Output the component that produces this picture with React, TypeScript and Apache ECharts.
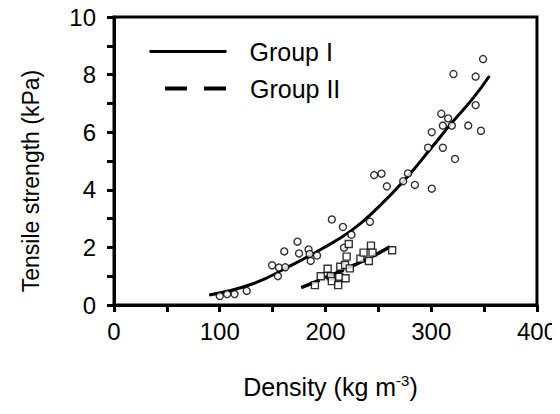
import React, { useEffect, useRef } from "react";
import * as echarts from "echarts";

const groupIPoints: [number, number][] = [
  [100, 0.31], [107, 0.38], [114, 0.38], [125.5, 0.49], [149.5, 1.38], [155, 1.0],
  [156, 1.3], [162, 1.31], [161, 1.86], [173.5, 2.2], [175, 1.79], [184, 1.93],
  [185, 1.77], [186, 1.53], [192, 1.72], [206, 2.97], [216.5, 2.71], [217.5, 1.99],
  [224.5, 2.44], [242, 2.89], [246, 4.51], [253, 4.56], [258, 4.12], [273.5, 4.3],
  [278, 4.57], [284.5, 4.17], [300.5, 4.04], [297, 5.46], [300.5, 6.0], [311, 5.46],
  [309.5, 6.64], [316, 6.48], [311, 6.23], [319.5, 6.23], [322.5, 5.07], [321, 8.02],
  [335, 6.23], [342, 7.93], [342, 6.94], [347, 6.05], [349, 8.54],
];

const groupIIPoints: [number, number][] = [
  [190, 0.69], [195.5, 1.0], [202, 1.26], [205, 1.0], [206, 0.83], [212, 0.69],
  [213, 0.98], [214, 1.33], [219, 0.93], [218.5, 1.39], [220, 1.68], [222, 2.12],
  [223, 1.27], [233, 1.61], [236, 1.82], [241, 1.53], [243, 2.06], [244.5, 1.82],
  [263, 1.9],
];

const groupIFit: [number, number][] = [
  [90, 0.35], [130, 0.72], [165, 1.33], [195, 1.92], [225, 2.6], [250, 3.4],
  [275, 4.35], [300, 5.45], [320, 6.35], [340, 7.2], [355, 7.95],
];

const groupIIFit: [number, number][] = [
  [177, 0.6], [200, 0.95], [225, 1.35], [245, 1.7], [261, 2.02],
];

const xTicks = [0, 100, 200, 300, 400];
const yTicks = [0, 2, 4, 6, 8, 10];

const FONT = "Liberation Sans, Arial, sans-serif";

export default function App() {
  const ref = useRef<HTMLDivElement>(null);
  useEffect(() => {
    if (!ref.current) return;
    const chart = echarts.init(ref.current, undefined, { renderer: "svg" });
    chart.setOption({
      animation: false,
      textStyle: { fontFamily: FONT, color: "#000" },
      grid: {
        left: 114, right: 18, top: 17, bottom: 109,
        show: true, borderColor: "#000", borderWidth: 3, backgroundColor: "transparent",
      },
      legend: [
        {
          data: ["Group I"], left: 143, top: 34, orient: "vertical",
          itemWidth: 77, itemHeight: 20,
          itemStyle: { opacity: 0 },
          lineStyle: { width: 3, color: "#000", type: "solid" },
          textStyle: { fontSize: 25, color: "#000", fontFamily: FONT, padding: [0, 0, 0, 18] },
        },
        {
          data: ["Group II"], left: 158, top: 71, orient: "vertical",
          itemWidth: 62, itemHeight: 20,
          itemStyle: { opacity: 0 },
          lineStyle: { width: 4, color: "#000", type: [22, 17] },
          textStyle: { fontSize: 25, color: "#000", fontFamily: FONT, padding: [0, 0, 0, 18] },
        },
      ],
      xAxis: {
        type: "value", min: 0, max: 400, interval: 50,
        name: "Density (kg m{sup|-3})",
        nameLocation: "middle", nameGap: 68,
        nameTextStyle: {
          fontSize: 25, color: "#000", fontFamily: FONT, padding: [0, 0, 0, 10],
          rich: { sup: { fontSize: 15, color: "#000", fontFamily: FONT, padding: [0, 0, 12, 0] } },
        },
        axisLine: { lineStyle: { color: "#000", width: 3 } },
        axisTick: { length: 7, lineStyle: { color: "#000", width: 3 } },
        axisLabel: {
          fontSize: 24, color: "#000", fontFamily: FONT, margin: 14,
          formatter: (v: number) => (xTicks.includes(v) ? String(v) : ""),
        },
        splitLine: { show: false },
      },
      yAxis: {
        type: "value", min: 0, max: 10, interval: 1,
        name: "Tensile strength (kPa)",
        nameLocation: "middle", nameGap: 72,
        nameTextStyle: { fontSize: 23, color: "#000", fontFamily: FONT, padding: [0, 40, 0, 0] },
        axisLine: { lineStyle: { color: "#000", width: 3 } },
        axisTick: { length: 7, lineStyle: { color: "#000", width: 3 } },
        axisLabel: {
          fontSize: 24, color: "#000", fontFamily: FONT, margin: 18,
          formatter: (v: number) => (yTicks.includes(v) ? String(v) : ""),
        },
        splitLine: { show: false },
      },
      series: [
        {
          name: "Group I", type: "line", data: groupIFit, smooth: true, symbol: "none",
          lineStyle: { color: "#000", width: 3, type: "solid" }, itemStyle: { color: "#000" }, z: 3,
        },
        {
          name: "Group II", type: "line", data: groupIIFit, smooth: true, symbol: "none",
          lineStyle: { color: "#000", width: 3.5, type: [20, 6] }, itemStyle: { color: "#000" }, z: 3,
        },
        {
          name: "Group I points", type: "scatter", data: groupIPoints, symbol: "circle", symbolSize: 7,
          itemStyle: { color: "#fff", borderColor: "#000", borderWidth: 1.4 }, z: 4,
        },
        {
          name: "Group II points", type: "scatter", data: groupIIPoints, symbol: "rect", symbolSize: 7,
          itemStyle: { color: "#fff", borderColor: "#000", borderWidth: 1.4 }, z: 4,
        },
      ],
    });
    return () => chart.dispose();
  }, []);
  return <div ref={ref} style={{ width: 560, height: 414, margin: -8 }} />;
}
